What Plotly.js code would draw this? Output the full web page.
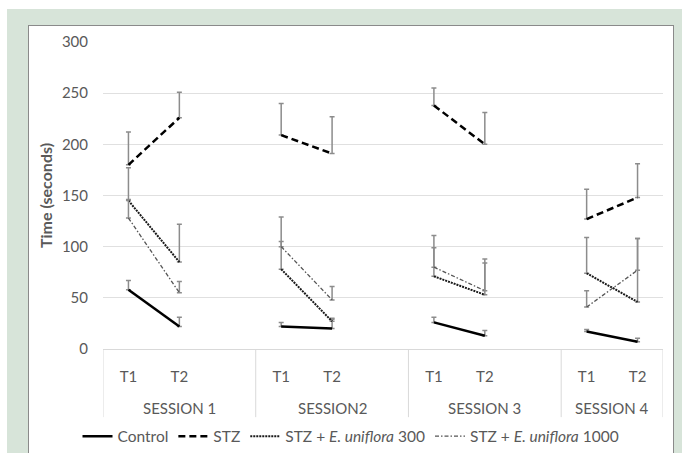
<!DOCTYPE html>
<html><head><meta charset="utf-8">
<script src="https://cdn.plot.ly/plotly-3.0.1.min.js"></script>
<style>
html,body{margin:0;padding:0;background:#fff;overflow:hidden;width:686px;height:453px;position:relative}
#frame{position:absolute;left:7px;top:9px;width:675px;height:460px;background:#d7e4d9}
#chart{position:absolute;left:28px;top:25px;width:644px;height:430px;border:1px solid #8a8a8a;background:#fff}
</style></head>
<body>
<div id="frame"></div>
<div id="chart"></div>
<script>
// ---- data ----
const sessions = ["SESSION 1", "SESSION2", "SESSION 3", "SESSION 4"];
const timepoints = ["T1", "T2"];
const seriesNames = ["Control", "STZ", "STZ + <i>E. uniflora</i> 300", "STZ + <i>E. uniflora</i> 1000"];
// values per session: [T1, T2, T1, T2, ...]
const control   = [58, 22, 22, 20, 26, 13, 17, 7];
const controlErr= [9, 9, 4, 9, 5, 5, 2, 3.5];
const stz       = [180, 226, 209, 191, 238, 200, 127, 148];
const stzErr    = [32, 25, 31, 36, 17, 31, 29, 33];
const eu300     = [145, 85, 78, 27, 71, 53, 74, 46];
const eu300Err  = [32, 37, 27, 3, 28, 31, 35, 62];
const eu1000    = [128, 55, 100, 48, 80, 57, 41, 77];
const eu1000Err = [18, 11, 29, 13, 31, 31, 16, 31];

// ---- build category axis (blank spacer after each session but the last) ----
const cats = [], tickText = [], groupOf = [];
sessions.forEach((s, i) => {
  timepoints.forEach(t => { cats.push(s + "|" + t); tickText.push(t); groupOf.push(i); });
  if (i < sessions.length - 1) { cats.push(s + "|gap"); tickText.push(""); groupOf.push(-1); }
});
function expand(vals) {
  const out = []; let k = 0;
  sessions.forEach((s, i) => {
    timepoints.forEach(() => { out.push(vals[k++]); });
    if (i < sessions.length - 1) out.push(null);
  });
  return out;
}
const styles = [
  {color: "#000000", width: 2.5, dash: "solid"},
  {color: "#000000", width: 2.5, dash: "7px,4px"},
  {color: "#1a1a1a", width: 2, dash: "2px,1px"},
  {color: "#555555", width: 1.3, dash: "4px,2px,1.5px,2px"}
];
const allVals = [control, stz, eu300, eu1000];
const allErr = [controlErr, stzErr, eu300Err, eu1000Err];
const traces = allVals.map((v, i) => ({
  type: "scatter", mode: "lines", name: seriesNames[i],
  x: cats, y: expand(v), connectgaps: false,
  line: styles[i],
  error_y: {type: "data", symmetric: false, array: expand(allErr[i]), arrayminus: expand(allErr[i]).map(e => e === null ? null : 0),
            color: "#8c8c8c", thickness: 1.5, width: 2.5}
}));

// session labels and dividers
const annotations = [], shapes = [];
const boundaries = [-0.5];
sessions.forEach((s, i) => {
  const idx = groupOf.map((g, j) => g === i ? j : -1).filter(j => j >= 0);
  const first = idx[0], last = idx[idx.length - 1];
  const end = (i < sessions.length - 1) ? last + 1 : last;
  annotations.push({text: s, x: (first - 0.5 + end + 0.5) / 2, xref: "x", y: -0.192, yref: "paper",
    showarrow: false, yanchor: "middle", xanchor: "center", font: {size: 15, color: "#595959"}});
  boundaries.push(end + 0.5);
});
boundaries.forEach(b => shapes.push({type: "line", xref: "x", yref: "paper", x0: b, x1: b, y0: 0, y1: -0.222,
  line: {color: "#d9d9d9", width: 1}}));

const layout = {
  width: 644, height: 430,
  margin: {l: 74, r: 10, t: 16, b: 107},
  paper_bgcolor: "#ffffff", plot_bgcolor: "#ffffff",
  font: {family: "Lato, 'Open Sans', sans-serif", color: "#595959", size: 15},
  showlegend: true,
  legend: {orientation: "h", xref: "container", yref: "container", x: 0.5, xanchor: "center", y: 0.045, yanchor: "middle",
           font: {size: 15.5, color: "#595959"}, itemwidth: 30, tracegroupgap: 0, bgcolor: "rgba(0,0,0,0)"},
  xaxis: {type: "category", categoryorder: "array", categoryarray: cats, range: [-0.5, cats.length - 0.5],
          tickvals: cats, ticktext: tickText, showgrid: false, zeroline: false,
          showline: true, linecolor: "#d9d9d9", linewidth: 1, ticks: "", ticklabelstandoff: 14,
          tickfont: {size: 15, color: "#595959"}, fixedrange: true},
  yaxis: {range: [0, 300], dtick: 50, showgrid: true, gridcolor: "#e0e0e0", gridwidth: 1, zeroline: false,
          showline: false, ticks: "", ticklabelstandoff: 14, tickfont: {size: 15, color: "#595959"},
          title: {text: "<b>Time (seconds)</b>", font: {size: 16, color: "#595959"}, standoff: 5}},
  annotations: annotations, shapes: shapes
};
Plotly.newPlot("chart", traces, layout, {displayModeBar: false, staticPlot: true});
</script>
</body></html>
